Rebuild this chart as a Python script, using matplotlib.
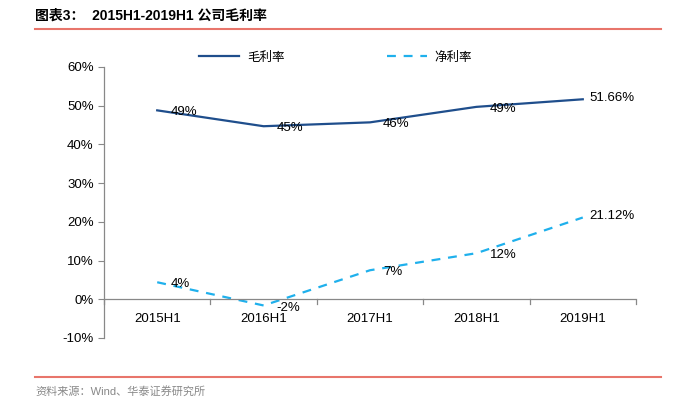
import matplotlib
matplotlib.use("Agg")
import matplotlib.pyplot as plt
from matplotlib.ticker import FuncFormatter

plt.rcParams['font.family'] = ['Liberation Sans', 'Noto Sans CJK SC', 'DejaVu Sans']

# data
periods = ["2015H1", "2016H1", "2017H1", "2018H1", "2019H1"]
gross_margin = [48.8, 44.7, 45.7, 49.7, 51.66]
net_margin = [4.4, -1.6, 7.5, 11.9, 21.12]
gross_labels = ["49%", "45%", "46%", "49%", "51.66%"]
net_labels = ["4%", "-2%", "7%", "12%", "21.12%"]

navy = "#1F4E8C"
sky = "#1FB0EC"
red = "#E8756B"

fig = plt.figure(figsize=(6.74, 3.99), dpi=100)
ax = fig.add_axes([0.1543, 0.1529, 0.7893, 0.6792])

x = list(range(len(periods)))
ax.plot(x, gross_margin, color=navy, lw=1.6, label="毛利率")
ax.plot(x, net_margin, color=sky, lw=1.6, ls=(0, (4, 3.5)), label="净利率")

for i in x:
    off = (4.5, 1) if i == len(x) - 1 else (9.5, -1.5)
    ax.annotate(gross_labels[i], (i, gross_margin[i]), xytext=off,
                textcoords="offset points", fontsize=9.5, ha="left", va="center")
    ax.annotate(net_labels[i], (i, net_margin[i]), xytext=off,
                textcoords="offset points", fontsize=9.5, ha="left", va="center")

ax.set_xlim(-0.5, 4.5)
ax.set_ylim(-10, 60)
ax.set_yticks(range(-10, 61, 10))
ax.yaxis.set_major_formatter(FuncFormatter(lambda v, p: f"{v:.0f}%"))
ax.tick_params(axis="y", labelsize=9.5, length=4, direction="out", color="#888888")

# category axis drawn at y=0 with ticks between categories
ax.set_xticks([])
ax.axhline(0, color="#888888", lw=0.9)
for b in [-0.5, 0.5, 1.5, 2.5, 3.5, 4.5]:
    ax.plot([b, b], [0, -1.1], color="#888888", lw=0.9, clip_on=False)
for i, p in enumerate(periods):
    ax.text(i, -5.2, p, ha="center", va="center", fontsize=9.5)

for s in ["top", "right", "bottom"]:
    ax.spines[s].set_visible(False)
ax.spines["left"].set_color("#888888")
ax.spines["left"].set_linewidth(0.9)

ax.legend(loc="center left", bbox_to_anchor=(193 / 674, 1 - 57 / 399),
          bbox_transform=fig.transFigure, ncol=2, frameon=False, borderpad=0,
          handlelength=3.2, columnspacing=8.2, handletextpad=0.6,
          prop={"family": ["Noto Sans CJK SC"], "size": 9})

fig.text(0.052, 0.962, "图表3：  2015H1-2019H1 公司毛利率", fontsize=10, fontweight="bold",
         family=["Liberation Sans", "Noto Sans CJK SC"], va="center")
fig.add_artist(plt.Line2D([0.052, 0.98], [0.927, 0.927], color=red, lw=1.5))
fig.add_artist(plt.Line2D([0.052, 0.98], [0.055, 0.055], color=red, lw=1.5))
fig.text(0.052, 0.02, "资料来源：Wind、华泰证券研究所", fontsize=8, color="#888888",
         family=["Liberation Sans", "Noto Sans CJK SC"], va="center")

fig.savefig("out.png", dpi=100)
